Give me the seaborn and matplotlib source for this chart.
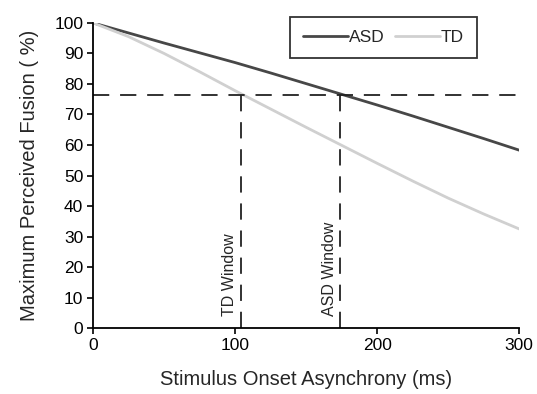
import pandas as pd
import seaborn as sns
import matplotlib.pyplot as plt

# values
soa_ms = [0, 25, 50, 75, 100, 125, 150, 175, 200, 225, 250, 275, 300]
asd_fusion = [100, 96.7, 93.4, 90.2, 87, 83.6, 80.1, 76.6, 73.1, 69.5, 65.8, 62.1, 58.3]
td_fusion = [100, 95.5, 90, 84, 77.8, 71.8, 65.8, 59.9, 54, 48.2, 42.6, 37.4, 32.5]
threshold = 76.5
td_window = 104
asd_window = 174

df = pd.concat([
    pd.DataFrame({'SOA': soa_ms, 'Fusion': asd_fusion, 'Group': 'ASD'}),
    pd.DataFrame({'SOA': soa_ms, 'Fusion': td_fusion, 'Group': 'TD'}),
])

sns.set_style('ticks')
plt.rcParams['font.family'] = ['Liberation Sans', 'DejaVu Sans']

fig = plt.figure(figsize=(5.37, 3.94), dpi=100)
ax = fig.add_axes([0.173, 0.167, 0.794, 0.775])

sns.lineplot(data=df, x='SOA', y='Fusion', hue='Group',
             palette={'ASD': '#474747', 'TD': '#d0d0d0'}, ax=ax, linewidth=2)

# threshold and window markers
dash = dict(color='#222222', lw=1.3, dashes=(9, 6))
ax.plot([0, 300], [threshold, threshold], **dash)
ax.plot([td_window, td_window], [0, threshold], **dash)
ax.plot([asd_window, asd_window], [0, threshold], **dash)
ax.text(td_window - 2.5, 4, 'TD Window', rotation=90, ha='right', va='bottom', fontsize=11.5)
ax.text(asd_window - 2.5, 4, 'ASD Window', rotation=90, ha='right', va='bottom', fontsize=11.5)

ax.set_xlim(0, 300)
ax.set_ylim(0, 100)
ax.set_xticks([0, 100, 200, 300])
ax.set_yticks(range(0, 101, 10))
ax.tick_params(labelsize=12.5, length=4, width=1.2, colors='black', pad=3)
ax.set_xlabel('Stimulus Onset Asynchrony (ms)', fontsize=14.5, labelpad=12)
ax.set_ylabel('Maximum Perceived Fusion ( %)', fontsize=14.5, labelpad=11)
for s in ['left', 'bottom']:
    ax.spines[s].set_color('black')
    ax.spines[s].set_linewidth(1.3)
sns.despine(ax=ax)

leg = ax.legend(loc='center', bbox_to_anchor=(0.714, 0.904), bbox_transform=fig.transFigure,
                ncol=2, frameon=True, fancybox=False, fontsize=12.5, handlelength=2.6,
                handletextpad=0.05, columnspacing=0.6, borderpad=0.75)
leg.get_frame().set_edgecolor('black')
leg.get_frame().set_linewidth(1.3)

fig.savefig('out.png', dpi=100)
